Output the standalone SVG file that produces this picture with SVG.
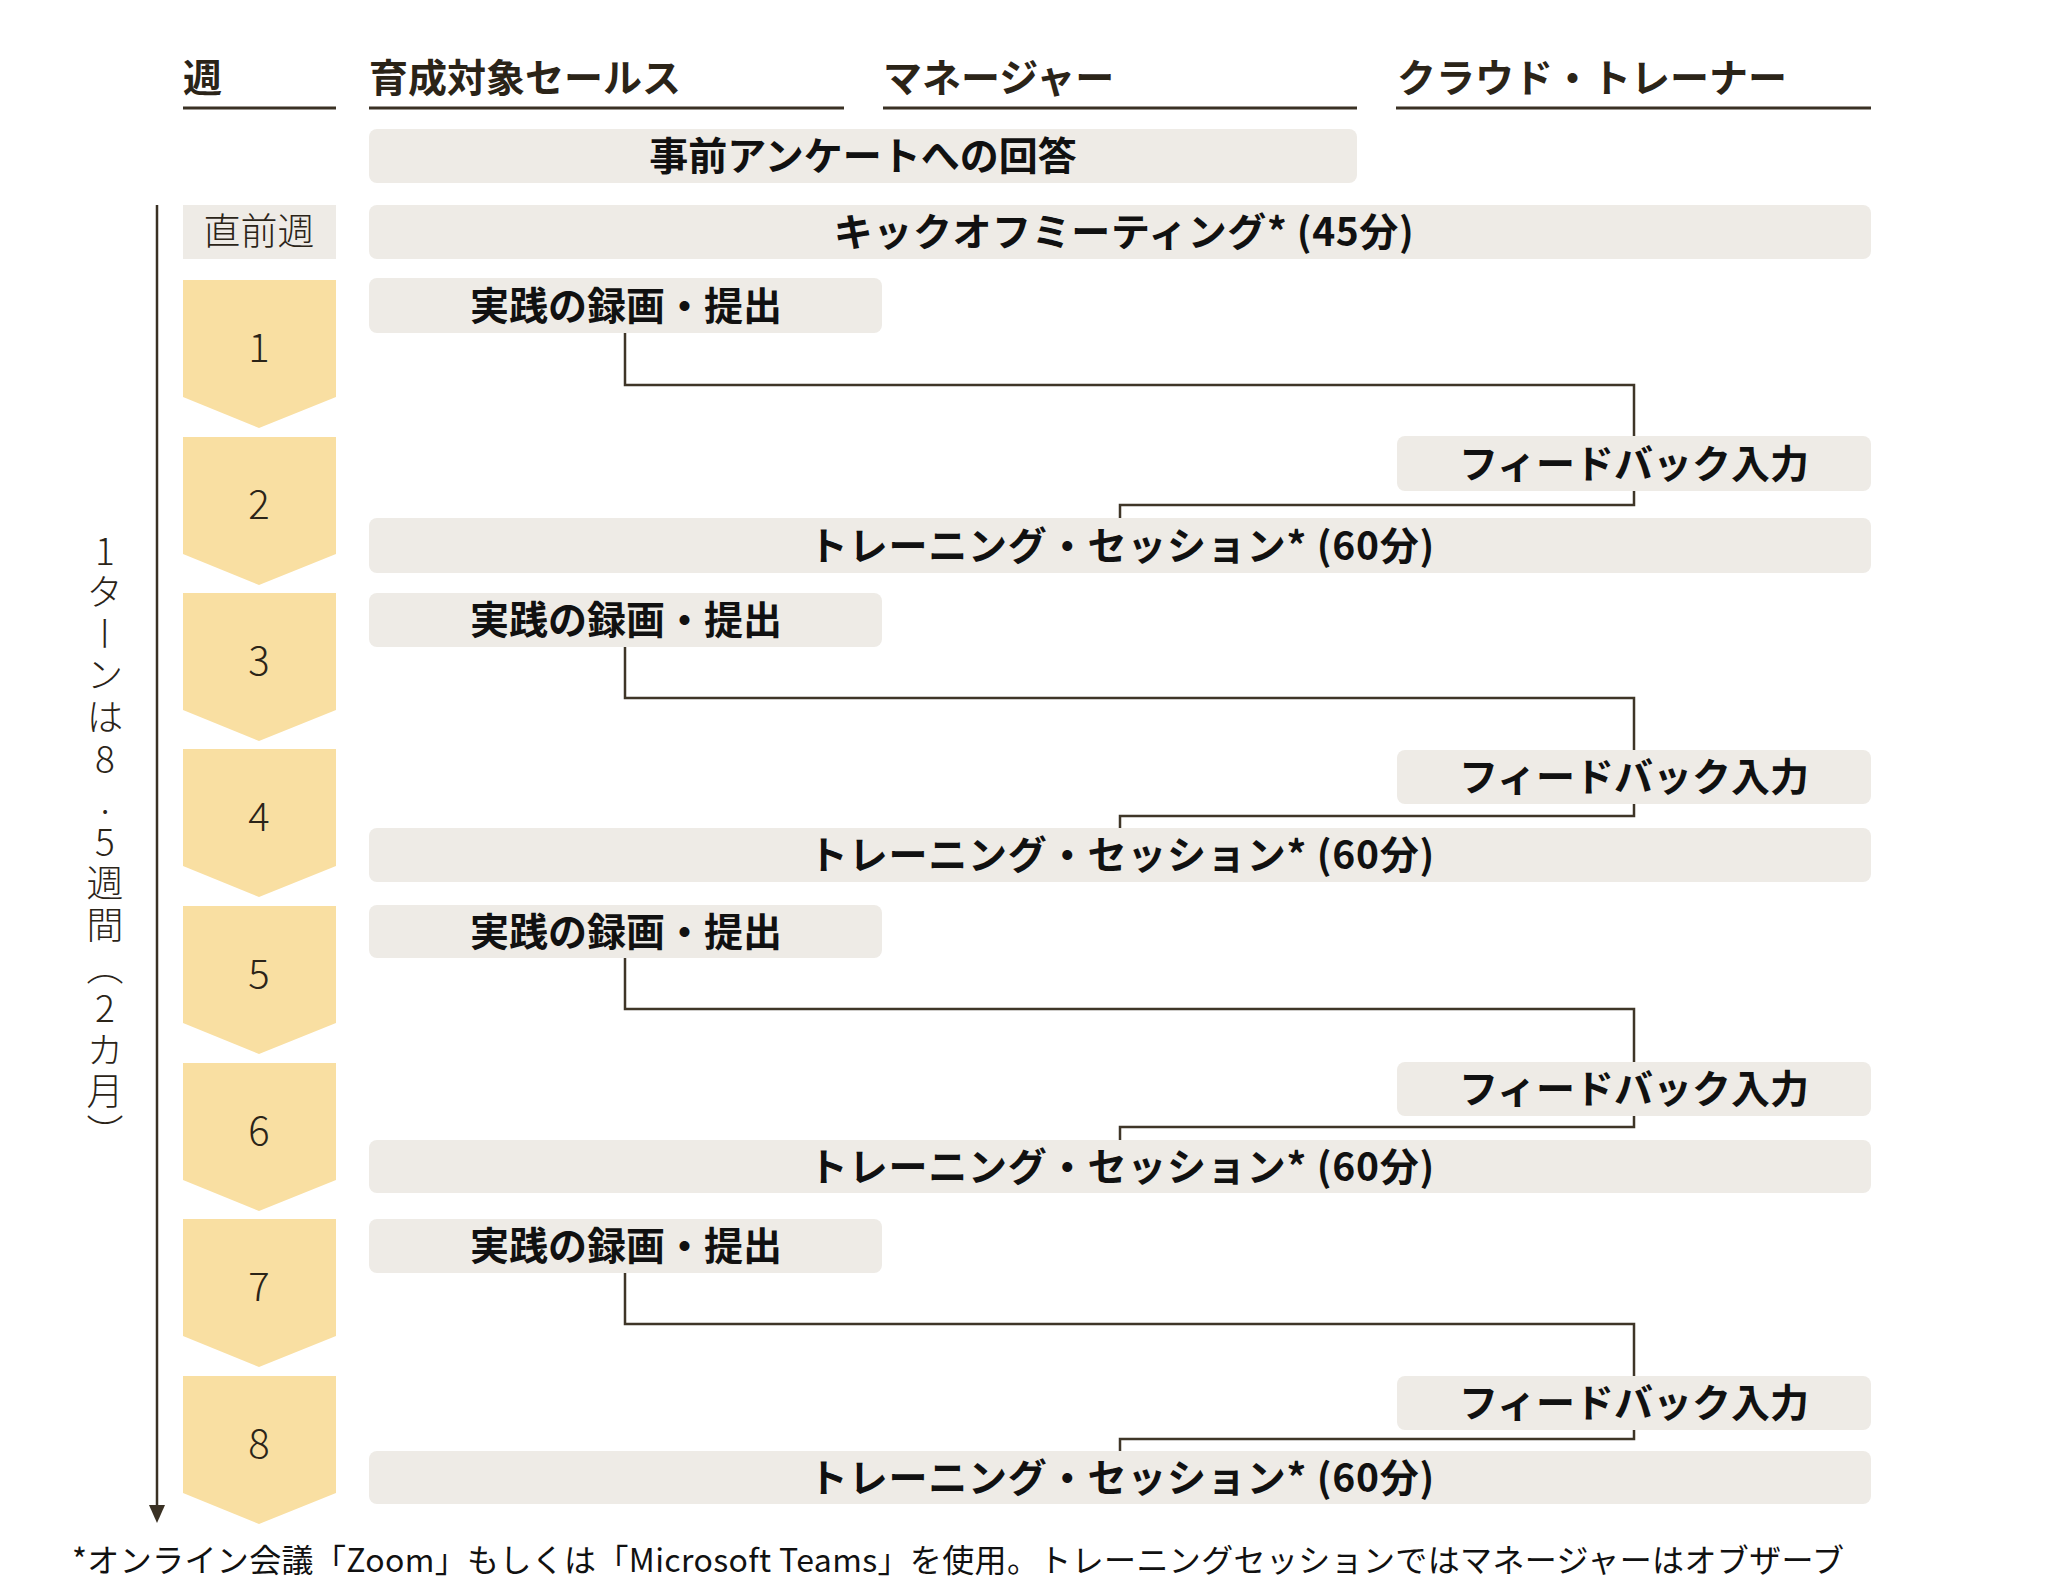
<svg xmlns="http://www.w3.org/2000/svg" width="2048" height="1581" viewBox="0 0 2048 1581">
<defs>
<style>
.hdr{font-family:"Noto Sans CJK JP","Noto Sans",sans-serif;font-size:39px;font-weight:700;fill:#2b2418}
.ul{stroke:#3a3124;stroke-width:3}
.box{fill:#eeebe6}
.bt{font-family:"Noto Sans CJK JP","Noto Sans",sans-serif;font-size:39px;font-weight:700;fill:#111;text-anchor:middle}
.chev{fill:#f9dfa2}
.num{font-family:"Noto Sans CJK JP","Noto Sans",sans-serif;font-size:40px;font-weight:300;fill:#2b2418;text-anchor:middle}
.conn{fill:none;stroke:#3f3628;stroke-width:2.5}
.note{font-family:"Noto Sans CJK JP","Noto Sans",sans-serif;font-size:32px;font-weight:400;fill:#111}
</style>
<marker id="ah" markerWidth="18" markerHeight="16" refX="0" refY="8" orient="auto" markerUnits="userSpaceOnUse" viewBox="0 0 18 16">
<path d="M0 0 L18 8 L0 16 Z" fill="#3a3124"/>
</marker>
</defs>
<rect width="2048" height="1581" fill="#fff"/>

<g id="headers">
<text class="hdr" x="183" y="92">週</text>
<line class="ul" x1="183" y1="108" x2="336" y2="108"/>
<text class="hdr" x="369" y="92">育成対象セールス</text>
<line class="ul" x1="369" y1="108" x2="844" y2="108"/>
<text class="hdr" x="883" y="92">マネージャー</text>
<line class="ul" x1="883" y1="108" x2="1357" y2="108"/>
<text class="hdr" x="1397" y="92">クラウド・トレーナー</text>
<line class="ul" x1="1396" y1="108" x2="1871" y2="108"/>
</g>

<g id="timeline">
<line x1="157" y1="205" x2="157" y2="1505" stroke="#3a3124" stroke-width="2.5" marker-end="url(#ah)"/>
<text x="105" y="532" style="writing-mode:vertical-rl;text-orientation:upright;font-family:'Noto Sans CJK JP',sans-serif;font-size:37px;font-weight:300;fill:#2b2418;letter-spacing:4.6px">1ターンは8.5週間（2カ月）</text>
</g>

<g id="node-survey">
<rect class="box" x="369" y="129" width="988" height="54" rx="8"/>
<text class="bt" x="863" y="170">事前アンケートへの回答</text>
</g>
<g id="node-prev-week">
<rect class="box" x="183" y="205" width="153" height="54"/>
<text x="259" y="245" style="font-family:'Noto Sans CJK JP',sans-serif;font-size:37px;font-weight:300;fill:#2b2418;text-anchor:middle">直前週</text>
</g>
<g id="node-kickoff">
<rect class="box" x="369" y="205" width="1502" height="54" rx="8"/>
<text class="bt" x="1124" y="246" style="letter-spacing:0.6px">キックオフミーティング* (45分)</text>
</g>

<g id="weeks">
<g id="week-1"><path class="chev" d="M183 280H336V397L259 428L183 397Z"/><text class="num" x="259" y="362">1</text></g>
<g id="week-2"><path class="chev" d="M183 437H336V554L259 585L183 554Z"/><text class="num" x="259" y="519">2</text></g>
<g id="week-3"><path class="chev" d="M183 593H336V710L259 741L183 710Z"/><text class="num" x="259" y="675">3</text></g>
<g id="week-4"><path class="chev" d="M183 749H336V866L259 897L183 866Z"/><text class="num" x="259" y="831">4</text></g>
<g id="week-5"><path class="chev" d="M183 906H336V1023L259 1054L183 1023Z"/><text class="num" x="259" y="988">5</text></g>
<g id="week-6"><path class="chev" d="M183 1063H336V1180L259 1211L183 1180Z"/><text class="num" x="259" y="1145">6</text></g>
<g id="week-7"><path class="chev" d="M183 1219H336V1336L259 1367L183 1336Z"/><text class="num" x="259" y="1301">7</text></g>
<g id="week-8"><path class="chev" d="M183 1376H336V1493L259 1524L183 1493Z"/><text class="num" x="259" y="1458">8</text></g>
</g>

<g id="connectors">
<path class="conn" d="M625 333V385H1634V436"/>
<path class="conn" d="M1634 490V505H1120V518"/>
<path class="conn" d="M625 647V698H1634V750"/>
<path class="conn" d="M1634 804V816H1120V828"/>
<path class="conn" d="M625 958V1009H1634V1062"/>
<path class="conn" d="M1634 1116V1127H1120V1140"/>
<path class="conn" d="M625 1273V1324H1634V1376"/>
<path class="conn" d="M1634 1430V1439H1120V1451"/>
</g>

<g id="node-rec-1"><rect class="box" x="369" y="278" width="513" height="55" rx="8"/><text class="bt" x="626" y="320">実践の録画・提出</text></g>
<g id="node-fb-1"><rect class="box" x="1397" y="436" width="474" height="55" rx="8"/><text class="bt" x="1634" y="478">フィードバック入力</text></g>
<g id="node-tr-1"><rect class="box" x="369" y="518" width="1502" height="55" rx="8"/><text class="bt" x="1122" y="560" style="letter-spacing:0.8px">トレーニング・セッション* (60分)</text></g>

<g id="node-rec-2"><rect class="box" x="369" y="593" width="513" height="54" rx="8"/><text class="bt" x="626" y="634">実践の録画・提出</text></g>
<g id="node-fb-2"><rect class="box" x="1397" y="750" width="474" height="54" rx="8"/><text class="bt" x="1634" y="791">フィードバック入力</text></g>
<g id="node-tr-2"><rect class="box" x="369" y="828" width="1502" height="54" rx="8"/><text class="bt" x="1122" y="869" style="letter-spacing:0.8px">トレーニング・セッション* (60分)</text></g>

<g id="node-rec-3"><rect class="box" x="369" y="905" width="513" height="53" rx="8"/><text class="bt" x="626" y="946">実践の録画・提出</text></g>
<g id="node-fb-3"><rect class="box" x="1397" y="1062" width="474" height="54" rx="8"/><text class="bt" x="1634" y="1103">フィードバック入力</text></g>
<g id="node-tr-3"><rect class="box" x="369" y="1140" width="1502" height="53" rx="8"/><text class="bt" x="1122" y="1181" style="letter-spacing:0.8px">トレーニング・セッション* (60分)</text></g>

<g id="node-rec-4"><rect class="box" x="369" y="1219" width="513" height="54" rx="8"/><text class="bt" x="626" y="1260">実践の録画・提出</text></g>
<g id="node-fb-4"><rect class="box" x="1397" y="1376" width="474" height="54" rx="8"/><text class="bt" x="1634" y="1417">フィードバック入力</text></g>
<g id="node-tr-4"><rect class="box" x="369" y="1451" width="1502" height="53" rx="8"/><text class="bt" x="1122" y="1492" style="letter-spacing:0.8px">トレーニング・セッション* (60分)</text></g>

<text class="note" x="72" y="1572" textLength="1772" lengthAdjust="spacing">*オンライン会議「Zoom」もしくは「Microsoft Teams」を使用。トレーニングセッションではマネージャーはオブザーブ</text>
</svg>
